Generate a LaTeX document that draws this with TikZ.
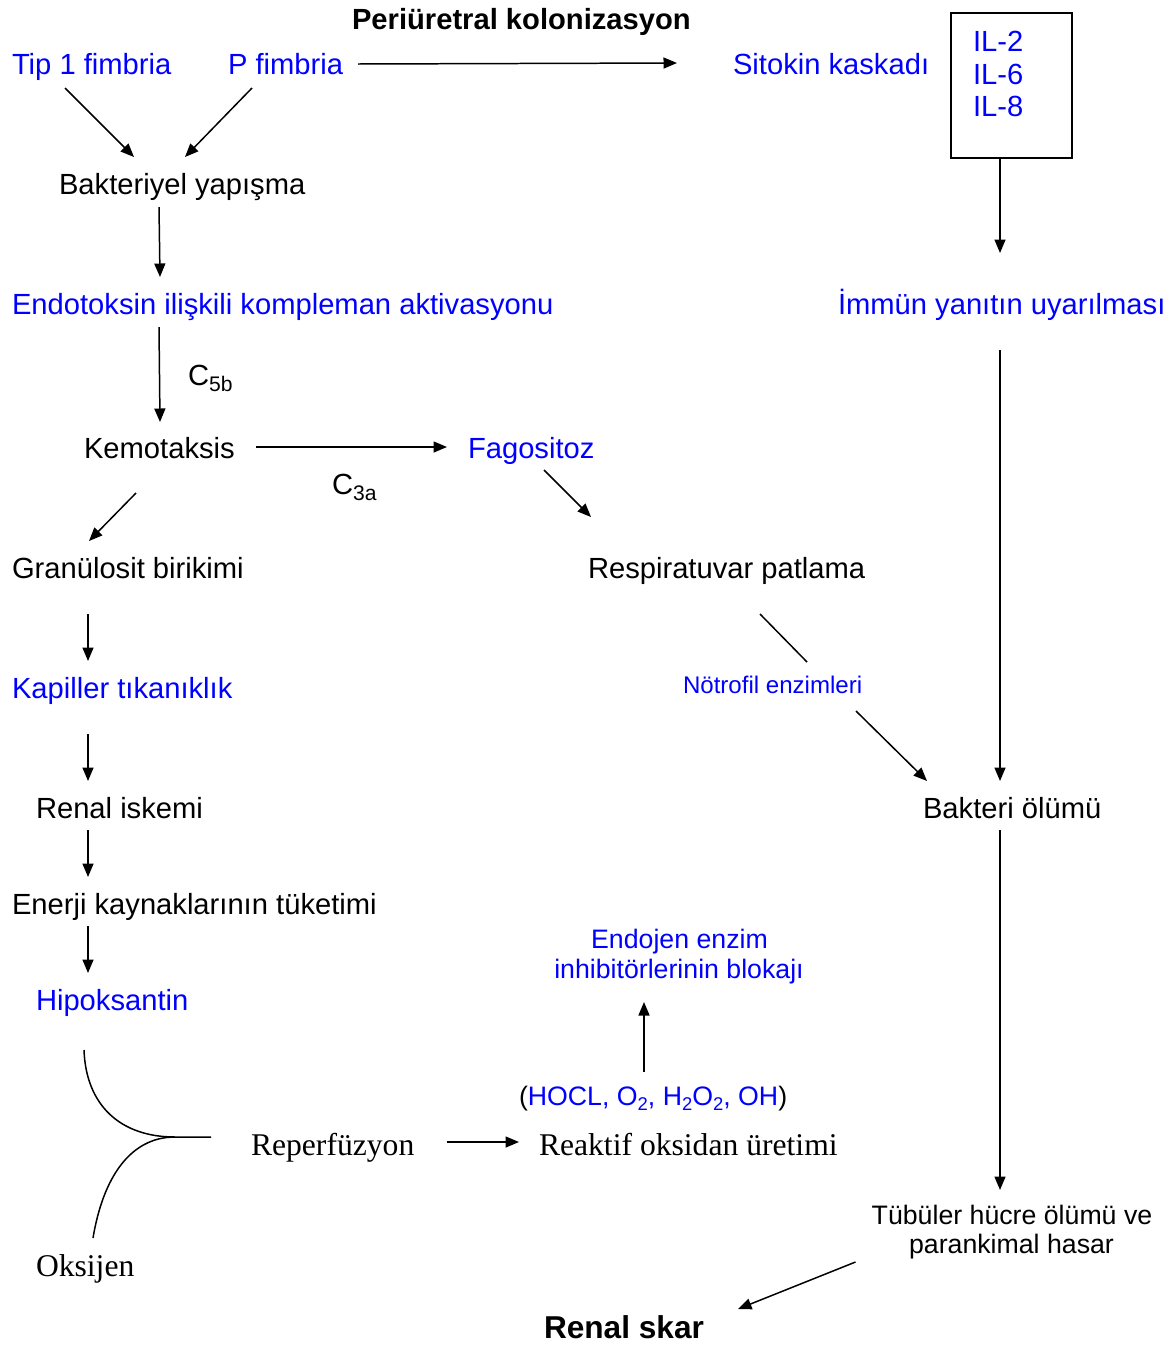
\documentclass[tikz,border=0pt]{standalone}
\usepackage{fontspec}
\setmainfont{Liberation Sans}
\newfontfamily\serifrm{Liberation Serif}
\usetikzlibrary{arrows.meta,calc}
\newcommand\mysub[1]{\raisebox{-0.22em}{\fontsize{10.5}{10.5}\selectfont #1}}
\newcommand\mycsub[1]{\raisebox{-0.22em}{\fontsize{12}{12}\selectfont #1}}
\begin{document}
\begin{tikzpicture}[x=0.02cm,y=-0.02cm,
  txt/.style={inner sep=0pt, outer sep=0pt, anchor=base west, font=\fontsize{16.6}{19}\selectfont},
  txtb/.style={txt, text=blue},
  boldtxt/.style={txt, font=\bfseries\fontsize{16.6}{19}\selectfont},
  smalltxt/.style={inner sep=0pt, outer sep=0pt, anchor=base, font=\fontsize{15.2}{17}\selectfont},
  sertxt/.style={txt, font=\serifrm\fontsize{18}{21}\selectfont},
  arr/.style={line width=0.85pt, -{Triangle[length=0.27cm,width=0.22cm]}},
  ln/.style={line width=0.85pt}]
\useasboundingbox (0,0) rectangle (1169,1346);

% nodes
\node[boldtxt] (peri) at (352,29) {Periüretral kolonizasyon};
\node[txtb] (tip1) at (12,74) {Tip 1 fimbria};
\node[txtb] (pfim) at (228,74) {P fimbria};
\node[txtb] (sitokin) at (733,74) {Sitokin kaskadı};
\node[draw, line width=0.95pt, inner sep=0pt, minimum width=2.42cm, minimum height=2.9cm] (ilbox) at (1011.5,85.5) {};
\node[txtb] (il2) at (973,51) {IL-2};
\node[txtb] (il6) at (973,84) {IL-6};
\node[txtb] (il8) at (973,116) {IL-8};
\node[txt] (bakt) at (59,194) {Bakteriyel yapışma};
\node[txtb] (endo) at (12,314) {Endotoksin ilişkili kompleman aktivasyonu};
\node[txtb] (immun) at (838,314) {İmmün yanıtın uyarılması};
\node[txt] (c5b) at (188,385) {C\mycsub{5b}};
\node[txt] (kemo) at (84,458) {Kemotaksis};
\node[txtb] (fago) at (468,458) {Fagositoz};
\node[txt] (c3a) at (332,494) {C\mycsub{3a}};
\node[txt] (gran) at (12,578) {Granülosit birikimi};
\node[txt] (resp) at (588,578) {Respiratuvar patlama};
\node[txtb] (kap) at (12,698) {Kapiller tıkanıklık};
\node[txtb, font=\fontsize{13.7}{16}\selectfont] (notr) at (683,693) {Nötrofil enzimleri};
\node[txt] (renis) at (36,818) {Renal iskemi};
\node[txt] (bolum) at (923,818) {Bakteri ölümü};
\node[txt] (enerji) at (12,914) {Enerji kaynaklarının tüketimi};
\node[txtb] (hipo) at (36,1010) {Hipoksantin};
\node[smalltxt, text=blue] (endoj1) at (679.5,948) {Endojen enzim};
\node[smalltxt, text=blue] (endoj2) at (679,978) {inhibitörlerinin blokajı};
\node[smalltxt, anchor=base west] (hocl) at (519,1105) {(\textcolor{blue}{HOCL, O\mysub{2}, H\mysub{2}O\mysub{2}, OH})};
\node[sertxt] (reperf) at (251,1155) {Reperfüzyon};
\node[sertxt] (reaktif) at (539,1155) {Reaktif oksidan üretimi};
\node[smalltxt] (tub1) at (1012,1224) {Tübüler hücre ölümü ve};
\node[smalltxt] (tub2) at (1011.5,1253) {parankimal hasar};
\node[sertxt] (oksijen) at (36,1276) {Oksijen};
\node[txt, font=\bfseries\fontsize{18}{21}\selectfont] (renalskar) at (544,1338) {Renal skar};

% connectors
\draw[arr] ($(tip1.base west)+(53,14)$) -- ($(bakt.base west)+(75,-37)$);
\draw[arr] ($(pfim.base west)+(24,14)$) -- ($(bakt.base west)+(126,-37)$);
\draw[arr] ($(pfim.base west)+(130,-10)$) -- ($(sitokin.base west)+(-56,-11)$);
\draw[arr] ($(ilbox.south)+(-11.5,0)$) -- ($(immun.base west)+(162,-61)$);
\draw[arr] ($(bakt.base west)+(100,13)$) -- ($(endo.base west)+(148,-37)$);
\draw[arr] ($(endo.base west)+(147,13)$) -- ($(kemo.base west)+(76,-36)$);
\draw[arr] ($(kemo.base west)+(172,-11)$) -- ($(fago.base west)+(-21,-11)$);
\draw[arr] ($(kemo.base west)+(52,35)$) -- ($(gran.base west)+(77,-37)$);
\draw[arr] ($(fago.base west)+(76,12)$) -- ($(resp.base west)+(3,-61)$);
\draw[arr] ($(gran.base west)+(76,36)$) -- ($(kap.base west)+(76,-37)$);
\draw[ln] ($(resp.base west)+(172,36)$) -- ($(notr.base west)+(124,-31)$);
\draw[arr] ($(notr.base west)+(173,18)$) -- ($(bolum.base west)+(4,-37)$);
\draw[arr] ($(immun.base west)+(162,36)$) -- ($(bolum.base west)+(77,-37)$);
\draw[arr] ($(kap.base west)+(76,36)$) -- ($(renis.base west)+(52,-37)$);
\draw[arr] ($(renis.base west)+(52,12)$) -- ($(enerji.base west)+(76,-37)$);
\draw[arr] ($(enerji.base west)+(76,12)$) -- ($(hipo.base west)+(52,-37)$);
\draw[arr] ($(bolum.base west)+(77,12)$) -- ($(tub1.base)+(-12,-34)$);
\draw[arr] ($(hocl.base west)+(125,-33)$) -- ($(endoj2.base)+(-35,24)$);
\draw[arr] ($(reperf.base west)+(196,-13)$) -- ($(reaktif.base west)+(-20,-13)$);
\draw[arr] ($(tub2.base)+(-156,9)$) -- ($(renalskar.base west)+(194,-29)$);

% merging curves
\coordinate (jn) at ($(reperf.base west)+(-76,-18)$);
\coordinate (jtip) at ($(reperf.base west)+(-40,-18)$);
\draw[ln] ($(hipo.base west)+(48,40)$) .. controls +(2,55) and +(-55,0) .. (jn) -- (jtip);
\draw[ln] ($(oksijen.base west)+(57,-38)$) .. controls +(10,-60) and +(-45,0) .. (jn);
\end{tikzpicture}
\end{document}
